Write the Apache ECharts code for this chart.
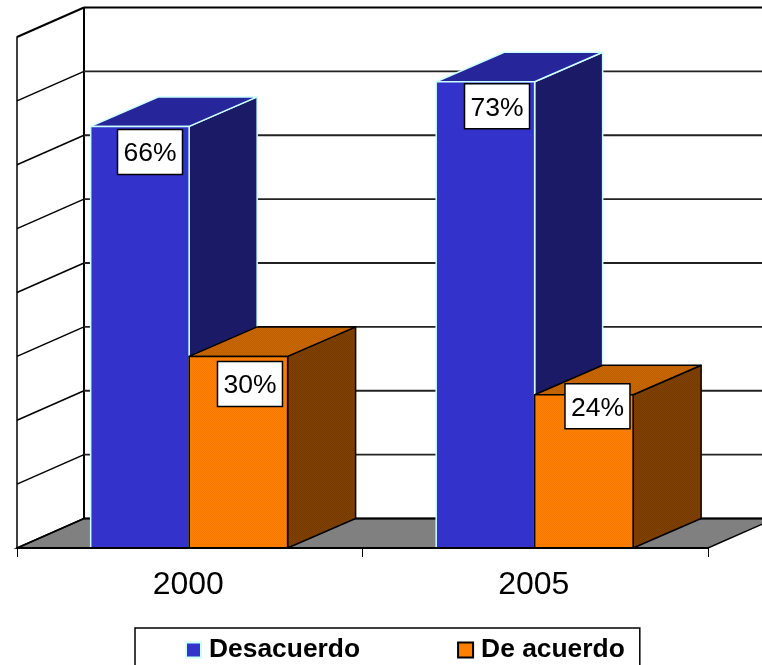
<!DOCTYPE html>
<html>
<head>
<meta charset="utf-8">
<style>html,body{margin:0;padding:0;background:#fff}#c{width:762px;height:665px}</style>
<script src="https://cdn.jsdelivr.net/npm/echarts@6/dist/echarts.min.js"></script>
</head>
<body>
<div id="c"></div>
<script>
const categories = ['2000', '2005'];
const desacuerdo = [66, 73];
const deAcuerdo = [30, 24];
const yTicks = [0, 10, 20, 30, 40, 50, 60, 70, 80];

const DX = 68, DY = -29.5, WALL_DX = 67;
const BAR_RATIO = 0.285;
const BAR_SHIFT = -0.6;
const labelShift = { d: [[9.5, 3], [11, 2]], a: [[11, 5], [13, -11]] };

function dither(a, b) {
  const cv = document.createElement('canvas');
  cv.width = 2; cv.height = 2;
  const g = cv.getContext('2d');
  g.fillStyle = a; g.fillRect(0, 0, 2, 2);
  g.fillStyle = b; g.fillRect(0, 0, 1, 1); g.fillRect(1, 1, 1, 1);
  return { image: cv, repeat: 'repeat' };
}

function bar(colors, line, side) {
  return function (params, api) {
    const cat = api.value(0), val = api.value(1);
    const band = api.size([1, 0])[0];
    const w = band * BAR_RATIO;
    const c = api.coord([cat, val]);
    const b = api.coord([cat, 0]);
    const x0 = (side < 0 ? c[0] - w : c[0]) + BAR_SHIFT;
    const x1 = x0 + w;
    const st = (fill) => ({ fill, stroke: line, lineWidth: 1.5, lineJoin: 'round' });
    return {
      type: 'group',
      children: [
        { type: 'polygon', shape: { points: [[x1, c[1]], [x1 + DX, c[1] + DY], [x1 + DX, b[1] + DY], [x1, b[1]]] }, style: st(colors[2]) },
        { type: 'polygon', shape: { points: [[x0, c[1]], [x1, c[1]], [x1 + DX, c[1] + DY], [x0 + DX, c[1] + DY]] }, style: st(colors[1]) },
        { type: 'polygon', shape: { points: [[x0, c[1]], [x1, c[1]], [x1, b[1]], [x0, b[1]]] }, style: st(colors[0]) }
      ]
    };
  };
}

function label(values, side, shifts) {
  return function (params, api) {
    const i = params.dataIndex;
    const cat = api.value(0), val = api.value(1);
    const band = api.size([1, 0])[0];
    const w = band * BAR_RATIO;
    const c = api.coord([cat, val]);
    const cx = (side < 0 ? c[0] - w / 2 : c[0] + w / 2) + shifts[i][0];
    const top = c[1] + shifts[i][1];
    return {
      type: 'group',
      z2: 100,
      children: [
        { type: 'rect', shape: { x: cx - 32.5, y: top, width: 65, height: 45 }, style: { fill: '#fff', stroke: '#000', lineWidth: 1.5 } },
        { type: 'text', style: { x: cx, y: top + 24.5, text: values[i] + '%', align: 'center', verticalAlign: 'middle', font: '26.5px "Liberation Sans"', fill: '#000' } }
      ]
    };
  };
}

function backdrop(params, api) {
  const v = api.value(0);
  const cs = params.coordSys;
  const left = cs.x, right = cs.x + cs.width;
  const y = api.coord([0, v])[1];
  const kids = [];
  const diag = { stroke: '#000', lineWidth: v === 80 ? 2 : 1.5, fill: 'none' };
  const grid = { stroke: v === 0 || v === 80 ? '#000' : '#222', lineWidth: v === 0 || v === 80 ? 2.2 : 1.8, fill: 'none' };
  if (v === 0) {
    kids.push({ type: 'polygon', shape: { points: [[left, y], [right, y], [right + WALL_DX, y + DY], [left + WALL_DX, y + DY]] }, style: { fill: '#808080', stroke: '#000', lineWidth: 1.5 } });
    kids.push({ type: 'line', shape: { x1: left + WALL_DX, y1: cs.y + DY, x2: left + WALL_DX, y2: y + DY }, style: { stroke: '#000', lineWidth: 2 } });
  }
  kids.push({ type: 'line', shape: { x1: left, y1: y, x2: left + WALL_DX, y2: y + DY }, style: diag });
  kids.push({ type: 'line', shape: { x1: left + WALL_DX, y1: y + DY, x2: right + WALL_DX, y2: y + DY }, style: grid });
  return { type: 'group', children: kids };
}

const pairs = (arr) => arr.map((v, i) => [i, v]);

const orangeFaces = [dither('#FF8000', '#F67A00'), dither('#BF6000', '#C86600'), dither('#804000', '#773B00')];

const chart = echarts.init(document.getElementById('c'), null, { renderer: 'canvas' });
chart.setOption({
  animation: false,
  backgroundColor: '#fff',
  grid: { left: 17, top: 37, width: 691, height: 511 },
  xAxis: {
    type: 'category',
    data: categories,
    axisLine: { lineStyle: { color: '#000', width: 2 } },
    axisTick: { show: true, alignWithLabel: false, length: 9, lineStyle: { color: '#000', width: 1 } },
    axisLabel: { color: '#000', fontFamily: 'Liberation Sans', fontSize: 32, margin: 21, padding: [0, 3, 0, 0] },
    z: 5
  },
  yAxis: {
    type: 'value', min: 0, max: 80, interval: 10,
    axisLine: { show: true, lineStyle: { color: '#000', width: 1.5 } },
    axisTick: { show: false },
    axisLabel: { show: false },
    splitLine: { show: false }
  },
  legend: {
    data: ['Desacuerdo', 'De acuerdo'],
    left: 135, top: 628,
    orient: 'horizontal',
    padding: [9, 15, 10, 50],
    itemGap: 97, itemWidth: 15, itemHeight: 15,
    icon: 'rect',
    backgroundColor: '#fff',
    borderColor: '#000', borderWidth: 1.5,
    textStyle: { color: '#000', fontFamily: 'Liberation Sans', fontWeight: 'bold', fontSize: 26.4, padding: [0, 0, 0, 3] }
  },
  series: [
    { type: 'custom', name: 'backdrop', data: yTicks.map(v => [v]), encode: { y: 0 }, renderItem: backdrop, silent: true, clip: false, z: 1 },
    { type: 'custom', name: 'Desacuerdo', data: pairs(desacuerdo), encode: { x: 0, y: 1 }, renderItem: bar(['#3333CC', '#26269A', '#1A1A66'], '#CCFFFF', -1), itemStyle: { color: '#3333CC', borderColor: '#CCFFFF', borderWidth: 2 }, clip: false, z: 2 },
    { type: 'custom', name: 'De acuerdo', data: pairs(deAcuerdo), encode: { x: 0, y: 1 }, renderItem: bar(orangeFaces, '#000', 1), itemStyle: { color: '#FF8000', borderColor: '#000', borderWidth: 1.5 }, clip: false, z: 3 },
    { type: 'custom', name: 'labelsD', data: pairs(desacuerdo), encode: { x: 0, y: 1 }, renderItem: label(desacuerdo, -1, labelShift.d), clip: false, z: 6 },
    { type: 'custom', name: 'labelsA', data: pairs(deAcuerdo), encode: { x: 0, y: 1 }, renderItem: label(deAcuerdo, 1, labelShift.a), clip: false, z: 6 }
  ]
});
</script>
</body>
</html>
